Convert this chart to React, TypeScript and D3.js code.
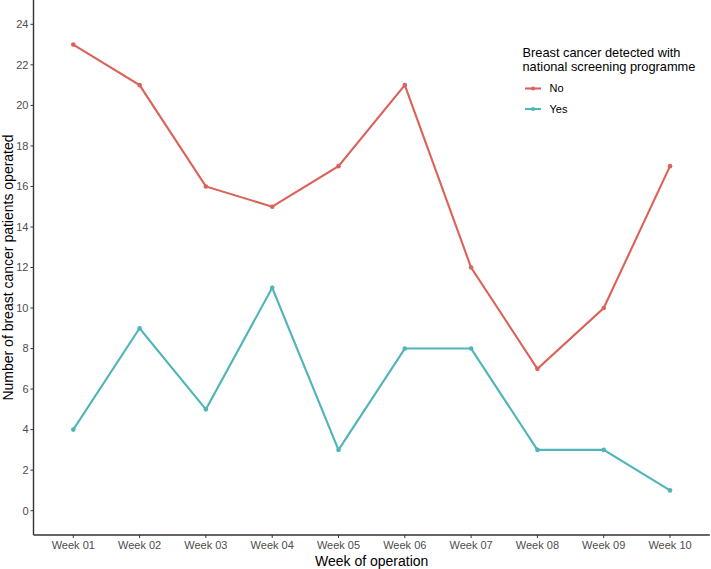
import React from "react";
import * as d3 from "d3";

const weeks = ["Week 01", "Week 02", "Week 03", "Week 04", "Week 05", "Week 06", "Week 07", "Week 08", "Week 09", "Week 10"];
const noValues = [23, 21, 16, 15, 17, 21, 12, 7, 10, 17];
const yesValues = [4, 9, 5, 11, 3, 8, 8, 3, 3, 1];
const yTicks = [0, 2, 4, 6, 8, 10, 12, 14, 16, 18, 20, 22, 24];
const seriesNames = ["No", "Yes"];
const seriesColors = ["#da6259", "#50b5ba"];

const W = 711, H = 569;
const left = 33.5, right = 709.8, top = 0, bottom = 535;

export default function App() {
  const x = d3.scalePoint<string>().domain(weeks).range([left, right]).padding(0.6);
  const y = d3.scaleLinear().domain([-1.2, 25.2]).range([bottom, top]);
  const line = d3.line<number>().x((_, i) => x(weeks[i]) as number).y((d) => y(d));
  const series = [noValues, yesValues];
  const font = "'Liberation Sans', Arial, sans-serif";
  return (
    <svg width={W} height={H} style={{ position: "absolute", left: 0, top: 0, background: "#fff" }} fontFamily={font}>
      {/* axes */}
      <line x1={left} x2={left} y1={top} y2={bottom} stroke="#333" strokeWidth={1.4} />
      <line x1={left} x2={right} y1={bottom} y2={bottom} stroke="#333" strokeWidth={1.4} />
      {yTicks.map((t) => (
        <g key={t}>
          <line x1={left - 3} x2={left} y1={y(t)} y2={y(t)} stroke="#333" strokeWidth={1} />
          <text x={left - 5} y={y(t)} dy="0.35em" textAnchor="end" fontSize={11} fill="#4d4d4d">{t}</text>
        </g>
      ))}
      {weeks.map((w) => (
        <g key={w}>
          <line x1={x(w)} x2={x(w)} y1={bottom} y2={bottom + 3} stroke="#333" strokeWidth={1} />
          <text x={x(w)} y={bottom + 14} textAnchor="middle" fontSize={11} fill="#4d4d4d">{w}</text>
        </g>
      ))}
      <text x={(left + right) / 2} y={566} textAnchor="middle" fontSize={14} fill="#000">Week of operation</text>
      <text transform={`translate(13, ${(top + bottom) / 2}) rotate(-90)`} textAnchor="middle" fontSize={14} fill="#000">Number of breast cancer patients operated</text>
      {/* series */}
      {series.map((vals, si) => (
        <g key={si}>
          <path d={line(vals) as string} fill="none" stroke={seriesColors[si]} strokeWidth={2.1} />
          {vals.map((v, i) => (
            <circle key={i} cx={x(weeks[i])} cy={y(v)} r={2.3} fill={seriesColors[si]} />
          ))}
        </g>
      ))}
      {/* legend */}
      <text x={522.5} y={57} fontSize={12.8} fill="#000">Breast cancer detected with</text>
      <text x={522.5} y={70.5} fontSize={12.8} fill="#000">national screening programme</text>
      {seriesNames.map((n, i) => (
        <g key={n}>
          <line x1={525} x2={541} y1={88.5 + i * 20.5} y2={88.5 + i * 20.5} stroke={seriesColors[i]} strokeWidth={2.1} />
          <circle cx={533} cy={88.5 + i * 20.5} r={2} fill={seriesColors[i]} />
          <text x={549.5} y={88.5 + i * 20.5} dy="0.35em" fontSize={11} fill="#000">{n}</text>
        </g>
      ))}
    </svg>
  );
}
